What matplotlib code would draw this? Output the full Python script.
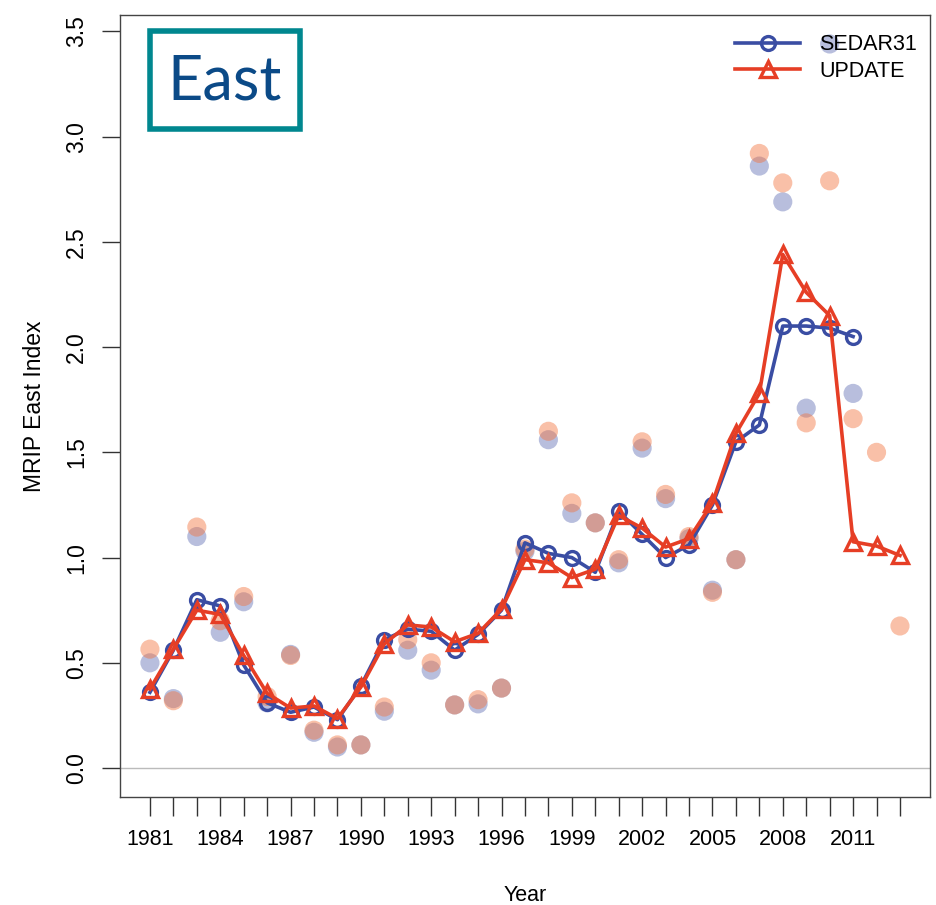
import matplotlib
matplotlib.use("Agg")
import matplotlib.pyplot as plt
from matplotlib import font_manager
from matplotlib.patches import FancyBboxPatch
import numpy as np

years_sedar = list(range(1981, 2012))
years_update = list(range(1981, 2014))

sedar_fit = [0.36, 0.56, 0.80, 0.77, 0.49, 0.31, 0.265, 0.29, 0.23, 0.39,
             0.61, 0.66, 0.65, 0.56, 0.635, 0.75, 1.07, 1.02, 1.00, 0.93,
             1.22, 1.11, 1.00, 1.06, 1.25, 1.55, 1.63, 2.10, 2.10, 2.09, 2.05]
update_fit = [0.375, 0.565, 0.75, 0.73, 0.535, 0.355, 0.285, 0.295, 0.235, 0.385,
              0.59, 0.68, 0.67, 0.60, 0.64, 0.755, 0.99, 0.975, 0.905, 0.945,
              1.20, 1.14, 1.05, 1.09, 1.26, 1.59, 1.78, 2.44, 2.26, 2.15,
              1.075, 1.055, 1.01]

sedar_obs = [0.50, 0.33, 1.10, 0.645, 0.79, 0.31, 0.54, 0.17, 0.10, 0.11,
             0.27, 0.56, 0.465, 0.30, 0.305, 0.38, 1.03, 1.56, 1.21, 1.165,
             0.975, 1.52, 1.28, 1.09, 0.845, 0.99, 2.86, 2.69, 1.71, 3.44, 1.78]
update_obs = [0.565, 0.32, 1.145, 0.70, 0.815, 0.34, 0.535, 0.18, 0.11, 0.11,
              0.29, 0.61, 0.50, 0.30, 0.325, 0.38, 1.04, 1.60, 1.26, 1.165,
              0.99, 1.55, 1.30, 1.10, 0.835, 0.99, 2.92, 2.78, 1.64, 2.79,
              1.66, 1.50, 0.675]

xtick_years = list(range(1981, 2014))
xlabel_years = list(range(1981, 2012, 3))
yticks = [0.0, 0.5, 1.0, 1.5, 2.0, 2.5, 3.0, 3.5]

available = {f.name for f in font_manager.fontManager.ttflist}
base_font = "Liberation Sans" if "Liberation Sans" in available else "DejaVu Sans"
east_font = "Lato" if "Lato" in available else base_font
plt.rcParams['font.family'] = [base_font, 'DejaVu Sans']

BLUE = "#3A4DA3"
RED = "#E63E25"
BLUE_L = "#3A4DA3"
RED_L = "#F3743F"

fig = plt.figure(figsize=(9.37, 9.05), dpi=100)
ax = fig.add_axes([0.128, 0.1193, 0.8645, 0.8641])

ax.axhline(0, color="#BBBBBB", lw=1.0, zorder=1)

ax.scatter(years_sedar, sedar_obs, s=190, color=BLUE_L, alpha=0.36, edgecolors="none", zorder=2)
ax.scatter(years_update, update_obs, s=190, color=RED_L, alpha=0.45, edgecolors="none", zorder=2)

ax.plot(years_sedar, sedar_fit, color=BLUE, lw=2.6, marker="o", ms=10,
        mfc="none", mec=BLUE, mew=2.4, zorder=3, label="SEDAR31")
ax.plot(years_update, update_fit, color=RED, lw=2.6, marker="^", ms=11,
        mfc="none", mec=RED, mew=2.4, zorder=4, label="UPDATE")

ax.set_xlim(1979.72, 2014.28)
ax.set_ylim(-0.1376, 3.5776)

ax.set_xticks(xtick_years)
ax.set_xticklabels([str(y) if y in xlabel_years else "" for y in xtick_years])
ax.set_yticks(yticks)
ax.set_yticklabels([f"{v:.1f}" for v in yticks], rotation=90, va="center")

ax.tick_params(axis="x", direction="out", length=14, width=1, color="#333333",
               labelsize=15.5, pad=9)
ax.tick_params(axis="y", direction="out", length=13, width=1, color="#333333",
               labelsize=16.5, pad=10)
for sp in ax.spines.values():
    sp.set_color("#444444")
    sp.set_linewidth(1.0)

ax.set_xlabel("Year", fontsize=15.5, labelpad=25)
ax.set_ylabel("MRIP East Index", fontsize=16.5, labelpad=14)

leg = ax.legend(loc="upper right", frameon=False, fontsize=15.5, handlelength=3.0,
                handletextpad=0.9, labelspacing=0.25, borderaxespad=0.5,
                bbox_to_anchor=(1.008, 1.0))

# "East" label box
box = FancyBboxPatch((150 / 937, 1 - 129 / 905), 150 / 937, 98 / 905,
                     boxstyle="square,pad=0", transform=fig.transFigure,
                     facecolor="white", edgecolor="#00878F", lw=4, zorder=10)
fig.patches.append(box)
fig.text(225 / 937, 1 - 82 / 905, "East", ha="center", va="center",
         fontsize=44, color="#0B4A87", family=[east_font, 'DejaVu Sans'], zorder=11)

fig.savefig("out.png", dpi=100)
